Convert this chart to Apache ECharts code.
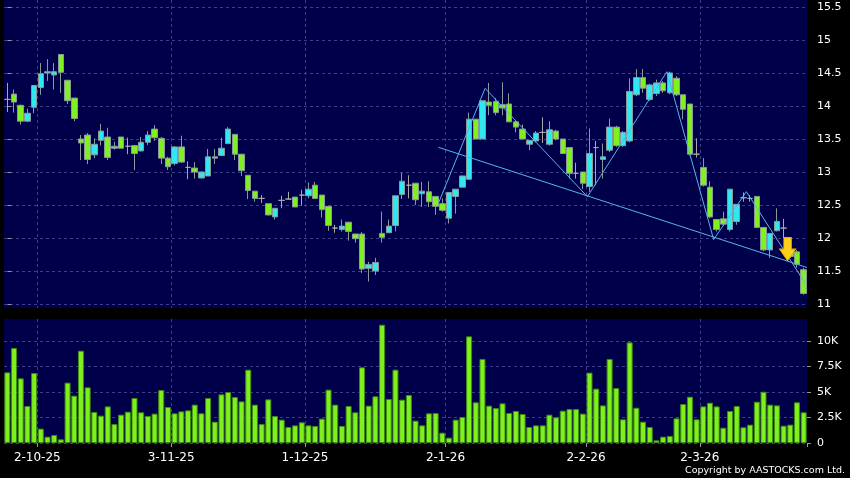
<!DOCTYPE html>
<html>
<head>
<meta charset="utf-8">
<script src="https://cdn.jsdelivr.net/npm/echarts@6/dist/echarts.min.js"></script>
<style>
html,body{margin:0;padding:0;background:#000;}
#chart{width:850px;height:478px;}
</style>
</head>
<body>
<div id="chart"></div>
<script>
// Trading days per month (day numbers)
const months = [
  {m: 9,  y: 25, days: [24,25,26,29,30]},
  {m: 10, y: 25, days: [2,3,6,8,9,10,13,14,15,16,17,20,21,22,23,24,27,28,30,31]},
  {m: 11, y: 25, days: [3,4,5,6,7,10,11,12,13,14,17,18,19,20,21,24,25,26,27,28]},
  {m: 12, y: 25, days: [1,2,3,4,5,8,9,10,11,12,15,16,17,18,19,22,23,24,29,30,31]},
  {m: 1,  y: 26, days: [2,5,6,7,8,9,12,13,14,15,16,19,20,21,22,23,26,27,28,29,30]},
  {m: 2,  y: 26, days: [2,3,4,5,6,9,10,11,12,13,16,20,23,24,25,26,27]},
  {m: 3,  y: 26, days: [2,3,4,5,6,9,10,11,12,13,16,17,18,19,20,23]}
];

const open = [14.10,14.18,14.01,13.77,13.98,14.28,14.50,14.47,14.78,14.39, 14.12,13.50,13.56,13.26,13.48,13.53,13.36,13.53,13.39,13.40, 13.32,13.45,13.65,13.51,13.21,13.13,13.38,13.07,13.06,12.91, 12.94,13.21,13.25,13.43,13.57,13.27,12.95,12.71,12.60,12.52, 12.32,12.57,12.59,12.62,12.65,12.64,12.80,12.65,12.48,12.15, 12.13,12.24,12.06,12.06,11.54,11.50,12.07,12.08,12.19,12.66, 12.80,12.83,12.67,12.70,12.63,12.52,12.30,12.63,12.77,12.89, 13.80,13.50,14.06,14.07,14.02,14.03,13.76,13.65,13.42,13.47, 13.60,13.42,13.62,13.50,13.37,12.98,13.00,12.78,13.37,13.19, 13.33,13.68,13.40,13.47,14.17,14.43,14.10,14.19,14.35,14.20, 14.42,14.17,14.03,13.27,13.07,12.77,12.28,12.29,12.13,12.25, 12.61,12.60,12.63,12.16,11.82,12.11,12.15,11.80,11.79,11.52];
const close = [14.10,14.06,13.77,13.89,14.31,14.49,14.52,14.52,14.51,14.08, 13.81,13.44,13.19,13.42,13.62,13.22,13.39,13.36,13.39,13.28, 13.45,13.56,13.52,13.21,13.08,13.38,13.15,13.07,13.00,13.00, 13.23,13.23,13.36,13.65,13.27,13.02,12.72,12.60,12.60,12.35, 12.45,12.57,12.59,12.47,12.65,12.74,12.60,12.43,12.19,12.15, 12.18,12.10,11.99,11.53,11.60,11.63,12.01,12.18,12.64,12.86, 12.80,12.58,12.71,12.55,12.48,12.42,12.69,12.74,12.94,13.80, 13.50,14.08,14.01,13.90,13.97,13.76,13.68,13.50,13.48,13.59, 13.60,13.64,13.50,13.28,12.98,12.98,12.83,13.28,13.37,13.23, 13.68,13.40,13.60,14.22,14.43,14.27,14.32,14.35,14.23,14.50, 14.17,13.95,13.27,13.27,12.80,12.32,12.13,12.21,12.74,12.51, 12.61,12.60,12.16,11.82,12.07,12.25,12.15,11.72,11.60,11.16];
const low = [13.91,13.90,13.72,13.76,13.89,14.17,14.38,14.25,14.20,14.03, 13.77,13.18,13.12,13.21,13.40,13.18,13.34,13.36,13.27,13.03, 13.31,13.41,13.47,13.12,13.03,13.10,13.14,12.89,12.90,12.90, 12.94,13.12,13.25,13.43,13.18,12.94,12.59,12.55,12.53,12.34, 12.28,12.45,12.58,12.47,12.49,12.60,12.60,12.31,12.11,12.08, 12.10,11.96,11.93,11.47,11.34,11.44,11.93,12.08,12.10,12.59, 12.60,12.50,12.47,12.47,12.35,12.40,12.22,12.37,12.77,12.89, 13.50,13.50,13.86,13.86,13.86,13.76,13.60,13.50,13.33,13.45, 13.44,13.40,13.48,13.28,12.90,12.90,12.74,12.70,12.80,12.90, 13.30,13.38,13.38,13.45,14.15,14.20,14.08,14.15,14.20,14.18, 14.15,13.80,13.25,13.22,12.78,12.30,12.10,12.18,12.10,12.20, 12.55,12.55,12.16,11.80,11.70,12.10,12.00,11.70,11.55,11.14];
const high = [14.35,14.25,14.02,13.96,14.31,14.65,14.71,14.65,14.78,14.39, 14.12,13.56,13.59,13.51,13.73,13.67,13.46,13.53,13.52,13.40, 13.53,13.62,13.71,13.53,13.23,13.39,13.55,13.16,13.15,13.01, 13.35,13.35,13.52,13.68,13.57,13.27,12.95,12.71,12.65,12.52, 12.45,12.64,12.70,12.62,12.73,12.84,12.85,12.65,12.48,12.20, 12.28,12.24,12.06,12.09,11.64,11.70,12.40,12.28,12.64,12.99, 12.95,12.83,12.85,12.86,12.63,12.60,12.69,12.74,12.94,13.90, 13.80,14.08,14.35,14.12,14.36,14.19,13.78,13.72,13.48,13.62, 13.83,13.77,13.64,13.50,13.37,13.14,13.00,13.66,13.47,13.43, 13.81,13.70,13.62,14.42,14.56,14.56,14.34,14.40,14.38,14.52, 14.45,14.17,14.03,13.51,13.21,12.86,12.28,12.40,12.74,12.51, 12.69,12.65,12.63,12.16,12.07,12.45,12.29,11.84,11.82,11.55];
const volume = [6930,9310,6340,3630,6860,1410,620,780,360,5920, 4640,9050,5460,3040,2680,3590,1860,2780,3070,4410, 3010,2650,2880,5200,3530,2910,3100,3200,3760,2910, 4410,2090,4770,5000,4510,4080,7190,3760,1860,4280, 2650,2290,1570,1730,2030,1730,1670,2390,5230,3760, 1670,3630,3010,7420,3660,4580,11600,4310,7190,4250, 4710,2190,1730,2910,2940,1010,520,2290,2550,10460, 3990,8240,3660,3430,3890,2940,3140,2840,1570,1730, 1730,2780,2520,3170,3330,3330,2880,6900,5330,3690, 8240,5390,2320,9870,3460,2090,1570,260,620,690, 2420,3820,4540,2320,3590,3950,3590,1500,3140,3630, 1540,1800,4050,5030,3760,3690,1700,1800,3990,3010];

// Annotation lines (category index, price)
const trendLine = [[64.42, 13.374], [119.5, 11.553]];
const zigzag = [[64.42, 12.526], [71.40, 14.268], [86.69, 12.626], [98.56, 14.520], [105.55, 11.977], [110.44, 12.702], [119.23, 11.314]];
const arrowPoint = [[116.6, 11.83]];

const priceTicks = {min: 11, max: 15.5, step: 0.5};
const volTicks = {min: 0, max: 12160, step: 2500};

// build
const categories = [];
const monthStart = new Set();
months.forEach((mo, k) => {
  mo.days.forEach((d, j) => {
    if (j === 0 && k > 0) monthStart.add(categories.length);
    categories.push(d + '-' + mo.m + '-' + mo.y);
  });
});
const ohlc = open.map((o, i) => [o, close[i], low[i], high[i]]);

const FONT = 'DejaVu Sans';
const BG = '#00004a';
const gridLine = {show: true, showMaxLine: false, lineStyle: {color: '#3e3e88', type: [3, 3], width: 1}};
const isStart = (idx) => monthStart.has(idx);

const chart = echarts.init(document.getElementById('chart'), null, {renderer: 'canvas'});
chart.setOption({
  backgroundColor: '#000',
  animation: false,
  grid: [
    {left: 4, right: 43, top: 0, height: 308, show: true, backgroundColor: BG, borderWidth: 0},
    {left: 4, right: 43, top: 7, height: 297, show: false},
    {left: 4, right: 43, top: 319, height: 124, show: true, backgroundColor: BG, borderWidth: 0}
  ],
  xAxis: [
    {gridIndex: 0, type: 'category', data: categories, boundaryGap: true,
      axisLine: {show: false}, axisTick: {show: false}, axisLabel: {show: false},
      splitLine: Object.assign({interval: isStart}, gridLine)},
    {gridIndex: 1, type: 'category', data: categories, boundaryGap: true,
      axisLine: {show: false}, axisTick: {show: false}, axisLabel: {show: false}, splitLine: {show: false}},
    {gridIndex: 2, type: 'category', data: categories, boundaryGap: true,
      axisLine: {show: false},
      axisTick: {show: true, interval: isStart, length: 4, lineStyle: {color: '#999'}},
      axisLabel: {show: true, interval: isStart, color: '#fff', fontFamily: FONT, fontSize: 12, margin: 9, padding: [0, 7, 0, 0]},
      splitLine: Object.assign({interval: isStart}, gridLine)},
    {gridIndex: 1, type: 'value', min: -0.5, max: 119.5, show: false}
  ],
  yAxis: [
    {gridIndex: 0, type: 'value', min: 0, max: 1, show: false},
    {gridIndex: 1, type: 'value', position: 'right', min: priceTicks.min, max: priceTicks.max, interval: priceTicks.step,
      axisLine: {show: false},
      axisTick: {show: true, length: 4, lineStyle: {color: '#999'}},
      axisLabel: {color: '#fff', fontFamily: FONT, fontSize: 11, margin: 10,
        formatter: v => (Math.abs(v % 1) < 1e-9 ? String(v) : v.toFixed(1))},
      splitLine: {show: true, lineStyle: gridLine.lineStyle}},
    {gridIndex: 2, type: 'value', position: 'right', min: volTicks.min, max: volTicks.max, interval: volTicks.step,
      axisLine: {show: false},
      axisTick: {show: true, length: 4, lineStyle: {color: '#999'}},
      axisLabel: {color: '#fff', fontFamily: FONT, fontSize: 11, margin: 10, showMaxLabel: false,
        formatter: v => (v === 0 ? '0' : (v > 10000 ? '' : (v / 1000) + 'K'))},
      splitLine: gridLine}
  ],
  series: [
    {type: 'bar', xAxisIndex: 2, yAxisIndex: 2, data: volume, barWidth: 6,
      itemStyle: {color: '#7df01e', borderColor: '#3f8a10', borderWidth: 1}, silent: true},
    {type: 'candlestick', xAxisIndex: 1, yAxisIndex: 1, data: ohlc, barWidth: 6,
      itemStyle: {color: '#30e8f2', color0: '#7ff020', borderColor: '#8a9a9a', borderColor0: '#8a9a9a',
        borderColorDoji: '#a8a8a8', borderWidth: 1}, silent: true},
    {type: 'line', xAxisIndex: 3, yAxisIndex: 1, data: trendLine, symbol: 'none',
      lineStyle: {color: '#58b4ec', width: 1}, silent: true, z: 5},
    {type: 'line', xAxisIndex: 3, yAxisIndex: 1, data: zigzag, symbol: 'none',
      lineStyle: {color: '#58b4ec', width: 1}, silent: true, z: 5},
    {type: 'scatter', xAxisIndex: 3, yAxisIndex: 1, data: arrowPoint,
      symbol: 'path://M4,0 L11,0 L11,11 L15,11 L7.5,22 L0,11 L4,11 Z', symbolSize: [16, 23],
      itemStyle: {color: '#ffd21a', borderColor: '#f0b000', borderWidth: 1, opacity: 1},
      silent: true, z: 10}
  ],
  graphic: [
    {type: 'text', right: 5, top: 466, style: {text: 'Copyright by AASTOCKS.com Ltd.', fill: '#fff', font: '9.5px "DejaVu Sans"'}}
  ]
});
</script>
</body>
</html>
